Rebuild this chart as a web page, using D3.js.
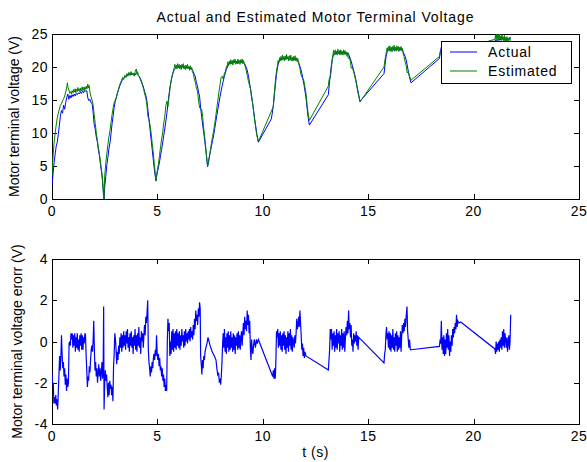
<!DOCTYPE html>
<html><head><meta charset="utf-8">
<script src="https://cdn.jsdelivr.net/npm/d3@7/dist/d3.min.js"></script>
<style>
body{margin:0;background:#fff;}
text{font-family:"Liberation Sans",Arial,Helvetica,sans-serif;}
</style></head>
<body><svg id="c" width="587" height="462"></svg>
<script>
const title = "Actual and Estimated Motor Terminal Voltage";
const xLabel = "t (s)";
const yLabelTop = "Motor terminal voltage (V)";
const yLabelBot = "Motor terminal voltage erorr (V)";
const legendLabels = ["Actual", "Estimated"];
const xTicks = [0,5,10,15,20,25];
const yTicksTop = [0,5,10,15,20,25];
const yTicksBot = [-4,-2,0,2,4];

// Actual terminal voltage [t (s), V]
const actual = [
[0.00,2.0],[0.05,3.8],[0.10,5.5],[0.15,6.8],[0.20,8.0],[0.25,8.6],[0.30,9.8],[0.35,11.2],[0.40,12.6],[0.45,13.4],[0.50,13.0],[0.55,14.2],[0.60,13.6],[0.65,14.6],[0.70,15.4],[0.75,15.9],[0.80,15.1],[0.85,15.7],[0.90,15.3],[0.95,15.8],[1.00,15.5],[1.05,15.9],[1.10,15.6],[1.15,16.0],[1.20,15.8],[1.25,16.1],[1.30,15.9],[1.35,16.2],[1.40,16.0],[1.45,16.4],[1.50,16.1],[1.55,16.5],[1.60,16.3],[1.65,16.4],[1.70,15.3],[1.75,14.9],[1.80,15.1],[1.85,14.6],[1.90,14.5],[1.95,13.2],[2.00,11.3],[2.05,10.6],[2.10,9.4],[2.15,8.7],[2.20,7.4],[2.25,6.6],[2.30,5.2],[2.35,4.1],[2.40,2.6],[2.44,1.0],[2.47,0.0],
[2.50,1.8],[2.55,3.4],[2.60,5.1],[2.65,6.3],[2.70,7.6],[2.75,8.5],[2.80,9.9],[2.85,11.4],[2.90,12.6],[2.95,13.9],[3.00,14.8],[3.05,15.3],[3.10,16.0],[3.15,16.5],[3.20,17.0],[3.25,17.4],[3.30,17.8],[3.35,18.1],[3.40,18.3],[3.45,18.5],[3.50,18.7],[3.55,18.6],[3.60,18.9],[3.65,18.8],[3.70,19.0],[3.75,18.8],[3.80,19.1],[3.85,18.9],[3.90,19.0],[3.95,18.8],[4.00,19.1],[4.05,18.9],[4.10,18.7],[4.15,18.5],[4.20,18.2],[4.25,17.8],[4.30,17.3],[4.35,16.8],[4.40,16.2],[4.45,15.7],[4.50,14.9],[4.55,13.5],[4.60,12.0],[4.65,10.6],[4.70,9.1],[4.75,7.6],[4.80,6.1],[4.85,4.6],[4.90,3.4],[4.93,2.8],
[4.97,3.6],[5.00,4.1],[5.05,4.8],[5.10,5.6],[5.15,6.6],[5.20,7.5],[5.25,8.5],[5.30,9.6],[5.35,10.6],[5.40,11.8],[5.45,13.0],[5.50,14.5],[5.55,15.8],[5.60,17.0],[5.65,17.9],[5.70,18.6],[5.75,19.2],[5.80,19.6],[5.85,19.8],[5.90,20.1],[5.95,19.9],[6.00,20.1],[6.05,19.8],[6.10,20.0],[6.15,19.9],[6.20,20.2],[6.25,19.9],[6.30,20.1],[6.35,19.8],[6.40,20.0],[6.45,19.8],[6.50,20.0],[6.55,19.7],[6.60,19.9],[6.65,19.6],[6.70,19.3],[6.75,18.9],[6.80,18.5],[6.85,17.6],[6.90,17.2],[6.95,16.2],[7.00,15.6],[7.05,13.8],[7.10,12.5],[7.15,11.2],[7.20,10.0],[7.25,8.7],[7.30,7.3],[7.34,6.1],[7.38,4.9],
[7.42,5.6],[7.47,6.5],[7.52,7.3],[7.57,8.1],[7.62,8.9],[7.67,9.7],[7.72,10.7],[7.77,11.7],[7.82,12.7],[7.87,13.6],[7.92,14.6],[7.97,15.5],[8.02,16.3],[8.07,17.1],[8.12,17.8],[8.17,18.5],[8.22,19.1],[8.27,19.6],[8.32,20.0],[8.37,20.4],[8.42,20.5],[8.47,20.7],[8.52,20.5],[8.57,20.8],[8.62,20.6],[8.67,20.9],[8.72,20.6],[8.77,20.8],[8.82,20.5],[8.87,20.9],[8.92,20.7],[8.97,20.9],[9.02,20.6],[9.07,20.8],[9.12,20.5],[9.17,20.3],[9.22,19.9],[9.27,19.4],[9.32,18.6],[9.37,17.6],[9.42,16.7],[9.47,15.6],[9.52,14.4],[9.57,13.2],[9.62,12.0],[9.67,10.9],[9.72,9.8],[9.79,8.6],
[10.40,12.1],[10.45,13.0],[10.50,14.2],[10.55,15.8],[10.60,17.4],[10.65,18.9],[10.70,20.0],[10.75,20.7],[10.80,21.0],[10.85,21.2],[10.90,21.4],[10.95,21.1],[11.00,21.4],[11.05,21.2],[11.10,21.5],[11.15,21.2],[11.20,21.4],[11.25,21.1],[11.30,21.3],[11.35,21.0],[11.40,21.3],[11.45,21.1],[11.50,21.3],[11.55,21.0],[11.60,21.2],[11.65,20.9],[11.70,20.7],[11.75,20.2],[11.80,19.7],[11.85,19.1],[11.90,18.2],[11.95,17.4],[12.00,16.4],[12.05,15.3],[12.10,13.8],[12.15,12.4],[12.21,11.2],
[13.11,15.8],[13.15,17.2],[13.20,18.8],[13.25,20.2],[13.30,21.2],[13.35,21.8],[13.40,22.1],[13.45,22.3],[13.50,22.0],[13.55,22.3],[13.60,22.1],[13.65,22.4],[13.70,22.0],[13.75,22.3],[13.80,22.1],[13.85,22.4],[13.90,22.0],[13.95,22.2],[14.00,21.9],[14.05,22.1],[14.10,21.7],[14.15,21.3],[14.20,20.8],[14.25,20.2],[14.30,19.6],[14.35,19.0],[14.40,18.3],[14.45,17.5],[14.50,16.6],[14.55,15.8],[14.61,14.8],
[15.75,19.0],[15.80,20.4],[15.85,21.6],[15.90,22.3],[15.95,22.5],[16.00,22.7],[16.05,22.4],[16.10,22.8],[16.15,22.5],[16.20,22.7],[16.25,22.4],[16.30,22.8],[16.35,22.5],[16.40,22.7],[16.45,22.4],[16.50,22.8],[16.55,22.5],[16.60,22.6],[16.65,22.3],[16.70,22.0],[16.75,21.6],[16.80,21.1],[16.85,20.3],[16.90,19.4],[16.95,18.6],[17.03,17.6],
[18.38,21.3],[18.42,22.2],[18.46,22.9],[18.50,23.2],[18.60,23.4],[18.70,23.2],[18.80,23.6],[18.90,23.3],[19.00,23.6],[19.10,23.4],[19.20,23.7],[19.30,23.4],[19.39,23.6],
[21.01,23.9],[21.05,24.1],[21.10,23.9],[21.15,24.2],[21.20,24.0],[21.25,24.3],[21.30,24.1],[21.35,24.4],[21.40,24.1],[21.45,24.3],[21.50,24.0],[21.55,24.3],[21.60,24.1],[21.65,24.4],[21.70,24.2],[21.76,24.5]
];

// Estimated terminal voltage [t (s), V]
const estimated = [
[0.00,3.5],[0.05,6.5],[0.10,8.5],[0.15,10.0],[0.20,11.2],[0.25,12.3],[0.30,13.0],[0.35,13.6],[0.40,14.2],[0.45,14.4],[0.50,14.9],[0.55,15.2],[0.60,15.6],[0.65,16.2],[0.70,17.0],[0.73,17.6],[0.76,16.9],[0.80,16.5],[0.85,16.0],[0.90,16.3],[0.93,15.9],[0.96,16.4],[1.00,16.1],[1.03,16.6],[1.06,16.2],[1.10,16.7],[1.13,16.1],[1.16,16.6],[1.20,16.3],[1.23,16.9],[1.26,16.4],[1.30,16.7],[1.33,16.2],[1.36,16.8],[1.40,16.4],[1.43,17.0],[1.46,16.5],[1.50,16.9],[1.53,16.4],[1.56,17.0],[1.60,16.6],[1.63,17.1],[1.66,16.7],[1.70,17.4],[1.73,16.8],[1.76,17.2],[1.80,16.2],[1.85,15.5],[1.90,15.0],[1.95,14.3],[2.00,12.8],[2.05,11.5],[2.10,10.1],[2.15,8.9],[2.20,7.8],[2.25,6.8],[2.30,5.6],[2.35,4.3],[2.40,3.0],[2.44,0.6],[2.47,0.0],
[2.50,3.5],[2.55,5.4],[2.60,6.8],[2.65,8.2],[2.70,9.4],[2.75,10.4],[2.80,11.6],[2.85,12.8],[2.90,13.8],[2.95,14.6],[3.00,15.0],[3.05,15.4],[3.10,16.0],[3.15,16.5],[3.20,17.2],[3.25,17.6],[3.30,18.0],[3.35,18.4],[3.40,18.1],[3.45,18.7],[3.50,18.4],[3.55,19.0],[3.60,18.6],[3.65,19.2],[3.70,18.7],[3.75,19.3],[3.80,18.8],[3.85,19.1],[3.90,18.6],[3.95,19.4],[4.00,19.7],[4.03,18.9],[4.06,19.3],[4.10,18.7],[4.15,18.5],[4.20,18.0],[4.25,17.6],[4.30,17.2],[4.35,16.6],[4.40,15.9],[4.45,15.3],[4.50,14.3],[4.55,12.5],[4.60,12.1],[4.65,11.2],[4.70,10.1],[4.75,8.5],[4.80,7.2],[4.85,5.4],[4.90,3.8],[4.93,2.7],
[4.97,3.6],[5.00,4.5],[5.05,5.3],[5.10,6.6],[5.15,7.9],[5.20,9.1],[5.25,10.0],[5.30,11.5],[5.35,12.5],[5.40,14.1],[5.45,14.8],[5.50,14.0],[5.55,15.5],[5.60,16.8],[5.65,17.9],[5.70,18.7],[5.75,19.3],[5.80,19.9],[5.83,20.4],[5.86,19.8],[5.90,20.3],[5.93,19.7],[5.96,20.5],[6.00,19.9],[6.03,20.4],[6.06,19.8],[6.10,20.3],[6.13,19.6],[6.16,20.4],[6.20,19.9],[6.23,20.5],[6.26,19.7],[6.30,20.2],[6.33,19.6],[6.36,20.3],[6.40,19.8],[6.43,20.4],[6.46,19.7],[6.50,20.1],[6.53,19.5],[6.56,20.2],[6.60,19.6],[6.63,19.9],[6.66,19.3],[6.70,19.0],[6.75,18.2],[6.80,17.7],[6.85,16.8],[6.90,16.4],[6.95,15.0],[7.00,13.8],[7.05,13.7],[7.10,13.6],[7.15,12.4],[7.20,10.6],[7.25,9.2],[7.30,7.6],[7.34,6.3],[7.38,5.0],
[7.42,5.4],[7.47,6.5],[7.52,7.5],[7.57,8.6],[7.62,9.5],[7.67,10.4],[7.72,11.4],[7.77,12.6],[7.82,13.8],[7.87,15.0],[7.92,16.2],[7.97,17.3],[8.02,18.4],[8.07,18.6],[8.12,18.2],[8.17,18.9],[8.22,19.3],[8.27,20.0],[8.32,20.3],[8.35,20.8],[8.38,20.2],[8.42,20.9],[8.45,20.4],[8.48,21.1],[8.52,20.5],[8.55,21.0],[8.58,20.3],[8.62,21.1],[8.65,20.6],[8.68,21.2],[8.72,20.4],[8.75,20.9],[8.78,20.5],[8.82,21.2],[8.85,20.6],[8.88,21.0],[8.92,20.4],[8.95,21.1],[8.98,20.7],[9.02,21.2],[9.05,20.5],[9.08,21.0],[9.12,20.6],[9.17,20.0],[9.22,19.4],[9.27,18.6],[9.32,17.8],[9.37,17.2],[9.42,16.6],[9.47,15.3],[9.52,14.5],[9.57,13.1],[9.62,11.8],[9.67,10.6],[9.72,9.6],[9.79,8.7],
[10.50,14.0],[10.55,16.2],[10.60,18.0],[10.65,19.4],[10.70,20.3],[10.73,21.0],[10.76,20.6],[10.80,21.4],[10.83,20.9],[10.86,21.6],[10.90,21.0],[10.93,21.8],[10.96,21.2],[11.00,21.6],[11.03,20.9],[11.06,21.7],[11.10,21.1],[11.13,21.9],[11.16,21.2],[11.20,21.6],[11.23,20.9],[11.26,21.7],[11.30,21.2],[11.33,21.8],[11.36,21.0],[11.40,21.5],[11.43,20.9],[11.46,21.6],[11.50,21.0],[11.53,21.7],[11.56,21.1],[11.60,21.4],[11.63,20.8],[11.66,21.3],[11.70,20.5],[11.75,20.0],[11.80,19.0],[11.85,18.5],[11.90,18.3],[11.95,17.9],[12.00,16.9],[12.05,16.0],[12.10,14.3],[12.15,13.0],[12.21,11.9],
[13.11,17.1],[13.15,18.2],[13.20,18.3],[13.25,19.6],[13.30,21.4],[13.33,21.9],[13.36,22.5],[13.40,21.8],[13.43,22.6],[13.46,21.9],[13.50,22.4],[13.53,21.8],[13.56,22.7],[13.60,22.0],[13.63,22.5],[13.66,21.8],[13.70,22.6],[13.73,21.9],[13.76,22.4],[13.80,21.8],[13.83,22.6],[13.86,21.9],[13.90,22.5],[13.93,21.9],[13.96,22.3],[14.00,21.6],[14.03,22.2],[14.06,21.3],[14.10,21.5],[14.15,20.9],[14.20,19.8],[14.25,20.0],[14.30,19.3],[14.35,18.8],[14.40,18.0],[14.45,17.3],[14.50,16.3],[14.55,15.6],[14.61,14.7],
[15.75,20.0],[15.80,21.2],[15.84,21.9],[15.87,22.4],[15.90,22.9],[15.93,22.4],[15.96,23.1],[16.00,22.5],[16.03,23.2],[16.06,22.4],[16.10,23.0],[16.13,22.3],[16.16,23.1],[16.20,22.6],[16.23,23.3],[16.26,22.5],[16.30,23.0],[16.33,22.4],[16.36,23.2],[16.40,22.6],[16.43,23.1],[16.46,22.4],[16.50,23.0],[16.53,22.6],[16.56,23.1],[16.60,22.5],[16.63,22.8],[16.66,22.0],[16.70,21.6],[16.75,20.8],[16.80,20.2],[16.85,19.1],[16.90,19.3],[16.95,18.7],[17.03,18.0],
[18.38,21.6],[18.42,22.4],[18.46,22.2],[18.50,23.5],[18.55,23.1],[18.60,23.7],[18.65,23.2],[18.70,23.9],[18.75,23.3],[18.80,23.8],[18.85,23.2],[18.90,23.7],[18.95,23.1],[19.00,23.6],[19.05,23.0],[19.10,23.4],[19.15,22.8],[19.20,23.0],[19.25,22.6],[19.30,22.7],[19.39,22.7],
[21.01,24.2],[21.04,24.8],[21.07,24.0],[21.10,25.3],[21.13,24.3],[21.16,24.9],[21.19,24.1],[21.22,25.1],[21.25,24.2],[21.28,24.7],[21.31,24.0],[21.34,24.9],[21.37,24.2],[21.40,24.6],[21.43,23.9],[21.46,24.8],[21.49,24.0],[21.52,24.5],[21.55,23.8],[21.58,24.6],[21.61,24.0],[21.64,24.4],[21.67,23.8],[21.70,24.5],[21.76,24.0]
];

// Voltage error [t (s), V]
const voltError = [
[0.00,-1.5],[0.03,-2.1],[0.06,-2.0],[0.09,-3.0],[0.12,-2.7],[0.15,-3.0],[0.18,-2.6],[0.21,-3.1],[0.24,-2.8],[0.27,-3.3],[0.30,-2.4],[0.33,-1.6],[0.36,-0.7],[0.39,-1.4],[0.42,-0.8],[0.45,0.3],[0.48,-0.6],[0.51,-1.3],[0.54,-1.0],[0.57,-1.7],[0.60,-1.3],[0.63,-2.1],[0.66,-1.6],[0.69,-2.4],[0.72,-1.8],[0.75,-2.2],[0.78,-2.0],[0.81,-0.1],[0.84,0.0],[0.87,-0.2],[0.90,0.4],[0.93,0.1],[0.96,0.4],[0.99,-0.3],[1.02,0.3],[1.05,-0.2],[1.08,0.4],[1.11,-0.5],[1.14,0.2],[1.17,-0.3],[1.20,0.4],[1.23,-0.4],[1.26,0.1],[1.29,-0.5],[1.32,0.3],[1.35,-0.2],[1.38,0.4],[1.41,-0.4],[1.44,0.3],[1.47,-0.4],[1.50,0.2],[1.53,-0.1],[1.56,0.4],[1.59,0.3],[1.62,-0.7],[1.65,-1.4],[1.68,-2.2],[1.71,-1.7],[1.74,-1.9],[1.77,-1.2],[1.80,-1.5],[1.83,-0.9],[1.86,-0.4],[1.89,-0.2],[1.92,-0.5],[1.95,0.0],[1.98,1.0],[2.01,-0.4],[2.04,-1.4],[2.07,-1.0],[2.10,-1.7],[2.13,-1.3],[2.16,-2.0],[2.19,-1.5],[2.22,-1.1],[2.25,-1.7],[2.28,-1.3],[2.31,-1.9],[2.34,-1.5],[2.37,-1.0],[2.40,-1.8],[2.43,-1.1],[2.45,1.7],[2.47,-3.3],
[2.50,-2.0],[2.53,-1.4],[2.56,-1.9],[2.59,-1.6],[2.62,-2.2],[2.65,-2.7],[2.68,-2.0],[2.71,-2.6],[2.74,-1.9],[2.77,-2.3],[2.80,-2.1],[2.83,-2.6],[2.86,-2.2],[2.89,-2.9],[2.92,-1.2],[2.95,-0.6],[2.98,0.4],[3.01,0.1],[3.04,-0.4],[3.07,-1.1],[3.10,-0.5],[3.13,-0.9],[3.16,-0.2],[3.19,-0.6],[3.22,0.2],[3.25,-0.3],[3.28,0.4],[3.31,-0.5],[3.34,0.3],[3.37,-0.3],[3.40,0.5],[3.43,-0.2],[3.46,0.3],[3.49,-0.4],[3.52,0.5],[3.55,-0.1],[3.58,0.6],[3.61,-0.3],[3.64,0.2],[3.67,-0.5],[3.70,0.4],[3.73,-0.2],[3.76,0.5],[3.79,-0.3],[3.82,0.2],[3.85,-0.6],[3.88,0.3],[3.91,-0.2],[3.94,0.6],[3.97,-0.4],[4.00,0.3],[4.03,-0.5],[4.06,0.4],[4.09,-0.2],[4.12,0.7],[4.15,-0.3],[4.18,0.2],[4.21,-0.6],[4.24,0.5],[4.27,0.0],[4.30,0.4],[4.33,-0.3],[4.36,0.3],[4.39,0.8],[4.42,0.3],[4.45,1.2],[4.48,0.9],[4.51,1.4],[4.54,2.0],[4.57,-0.4],[4.60,-1.0],[4.63,-1.3],[4.66,-1.7],[4.69,-1.2],[4.72,-1.5],[4.75,-1.0],[4.78,-1.3],[4.81,-0.8],[4.84,-0.6],[4.87,-0.9],[4.90,-0.4],[4.93,-0.7],[4.96,0.3],[4.99,-0.6],
[5.02,-0.9],[5.05,-0.6],[5.08,-1.2],[5.11,-0.8],[5.14,-1.4],[5.17,-1.2],[5.20,-1.7],[5.23,-1.3],[5.26,-1.9],[5.29,-1.6],[5.32,-2.2],[5.35,-1.8],[5.38,-2.4],[5.41,-2.1],[5.44,-2.4],[5.47,0.0],[5.50,1.1],[5.53,0.5],[5.56,0.9],[5.59,-0.7],[5.62,0.0],[5.65,-0.6],[5.68,0.5],[5.71,-0.4],[5.74,0.6],[5.77,-0.5],[5.80,0.4],[5.83,-0.3],[5.86,0.5],[5.89,-0.4],[5.92,0.6],[5.95,-0.2],[5.98,0.4],[6.01,-0.3],[6.04,0.5],[6.07,-0.4],[6.10,0.3],[6.13,-0.2],[6.16,0.6],[6.19,0.0],[6.22,0.3],[6.25,-0.3],[6.28,0.5],[6.31,-0.2],[6.34,0.6],[6.37,0.0],[6.40,0.4],[6.43,-0.1],[6.46,0.5],[6.49,0.1],[6.52,0.6],[6.55,0.0],[6.58,0.7],[6.61,0.2],[6.64,0.5],[6.67,0.1],[6.70,0.8],[6.73,0.3],[6.76,1.1],[6.79,0.6],[6.82,1.5],[6.85,1.0],[6.88,1.3],[6.91,0.8],[6.94,1.6],[6.97,1.2],[7.00,1.9],[7.03,1.6],[7.05,-0.7],[7.08,-1.1],[7.11,-1.6],[7.14,-0.9],[7.17,-1.3],[7.20,-0.7],[7.23,-0.9],[7.26,-0.5],[7.30,-0.3],[7.35,-0.1],[7.40,0.2],
[7.50,-0.2],[7.60,-0.5],[7.70,-0.7],[7.78,-0.9],[7.82,-1.3],[7.86,-1.6],[7.90,-1.5],[7.94,-2.0],[7.97,-1.8],[8.00,-2.1],[8.03,-1.7],[8.06,-1.1],[8.09,-0.2],[8.12,0.4],[8.15,-0.3],[8.18,0.6],[8.21,-0.5],[8.24,0.2],[8.27,-0.6],[8.30,0.4],[8.33,-0.3],[8.36,0.5],[8.39,-0.5],[8.42,0.3],[8.45,-0.4],[8.48,0.5],[8.51,-0.3],[8.54,0.2],[8.57,-0.5],[8.60,0.4],[8.63,-0.4],[8.66,0.3],[8.69,-0.6],[8.72,0.2],[8.75,-0.2],[8.78,0.4],[8.81,-0.4],[8.84,0.5],[8.87,-0.3],[8.90,0.3],[8.93,-0.4],[8.96,0.2],[8.99,0.5],[9.02,-0.2],[9.05,0.4],[9.08,0.9],[9.11,0.3],[9.14,1.2],[9.17,0.6],[9.20,1.0],[9.23,0.5],[9.26,1.5],[9.29,0.8],[9.32,1.3],[9.35,0.4],[9.38,1.0],[9.41,-0.3],[9.44,-0.9],[9.47,0.1],[9.50,-0.4],[9.53,-0.6],[9.56,-0.2],[9.60,0.1],[9.65,-0.3],[9.70,0.1],[9.74,-0.1],[9.79,0.1],
[10.47,-1.7],[10.50,-1.4],[10.53,-1.8],[10.56,-1.3],[10.59,-1.8],[10.62,-1.0],[10.65,0.5],[10.68,0.2],[10.71,0.6],[10.74,-0.3],[10.77,0.4],[10.80,-0.2],[10.83,0.5],[10.86,-0.4],[10.89,0.3],[10.92,-0.5],[10.95,0.4],[10.98,-0.2],[11.01,0.5],[11.04,-0.4],[11.07,0.3],[11.10,-0.6],[11.13,0.2],[11.16,-0.3],[11.19,0.5],[11.22,-0.5],[11.25,0.4],[11.28,-0.2],[11.31,0.6],[11.34,-0.4],[11.37,0.3],[11.40,-0.5],[11.43,0.2],[11.46,0.0],[11.49,-0.3],[11.52,0.3],[11.55,-0.1],[11.58,0.4],[11.61,1.1],[11.64,0.6],[11.67,0.8],[11.70,1.2],[11.73,0.7],[11.76,1.5],[11.79,0.9],[11.82,0.3],[11.85,-0.4],[11.88,-0.1],[11.91,-0.7],[11.94,-0.3],[11.97,-0.8],[12.00,-0.5],[12.05,-0.7],
[13.11,-1.38],[13.14,-0.9],[13.17,-0.4],[13.20,0.6],[13.23,0.1],[13.26,0.6],[13.29,-0.4],[13.32,0.4],[13.35,-0.2],[13.38,0.5],[13.41,-0.5],[13.44,0.3],[13.47,-0.3],[13.50,0.6],[13.53,-0.4],[13.56,0.4],[13.59,-0.1],[13.62,0.5],[13.65,-0.5],[13.68,0.3],[13.71,-0.2],[13.74,0.6],[13.77,-0.4],[13.80,0.4],[13.83,-0.3],[13.86,0.5],[13.89,-0.5],[13.92,0.2],[13.95,0.7],[13.98,0.3],[14.01,1.0],[14.04,0.4],[14.07,1.5],[14.10,0.6],[14.13,0.9],[14.16,0.2],[14.19,0.8],[14.22,-0.2],[14.25,0.1],[14.28,-0.5],[14.31,0.4],[14.34,-0.1],[14.37,0.3],[14.40,0.0],[14.43,0.5],[14.46,-0.2],[14.49,0.3],[14.52,-0.4],[14.55,0.2],[14.61,0.14],
[15.75,-1.04],[15.78,-0.6],[15.81,-0.4],[15.84,0.3],[15.87,0.7],[15.90,0.1],[15.93,0.4],[15.96,-0.3],[15.99,0.5],[16.02,-0.4],[16.05,0.4],[16.08,-0.5],[16.11,0.3],[16.14,-0.3],[16.17,0.6],[16.20,-0.4],[16.23,0.2],[16.26,-0.5],[16.29,0.4],[16.32,-0.2],[16.35,0.5],[16.38,-0.5],[16.41,0.3],[16.44,-0.4],[16.47,0.2],[16.50,-0.3],[16.53,0.5],[16.56,-0.5],[16.59,0.3],[16.62,0.8],[16.65,0.4],[16.68,0.9],[16.71,0.5],[16.74,1.1],[16.77,0.7],[16.80,1.2],[16.84,1.7],[16.87,0.5],[16.90,0.1],[16.93,-0.3],[16.96,0.1],[17.00,-0.4],[17.03,-0.4],
[18.38,-0.24],[18.41,0.1],[18.44,-0.1],[18.47,1.0],[18.50,-0.4],[18.53,0.2],[18.56,-0.6],[18.59,0.3],[18.62,-0.7],[18.65,0.1],[18.68,-0.6],[18.71,0.4],[18.74,-0.3],[18.77,0.6],[18.80,-0.4],[18.83,0.3],[18.86,-0.7],[18.89,0.0],[18.92,-0.5],[18.95,0.3],[18.98,-0.2],[19.01,0.6],[19.04,0.2],[19.07,0.7],[19.10,0.4],[19.13,0.9],[19.16,0.6],[19.19,1.3],[19.22,0.7],[19.25,1.0],[19.30,0.9],[19.39,0.95],
[21.01,-0.36],[21.04,-0.6],[21.07,0.0],[21.10,-0.5],[21.13,-0.1],[21.16,-0.4],[21.19,0.0],[21.22,-0.5],[21.25,0.1],[21.28,-0.3],[21.31,0.2],[21.34,-0.4],[21.37,0.5],[21.40,-0.2],[21.43,0.6],[21.46,-0.3],[21.49,0.4],[21.52,0.1],[21.55,-0.3],[21.58,0.2],[21.61,-0.5],[21.64,0.0],[21.67,0.3],[21.70,-0.4],[21.73,0.0],[21.76,1.3]
];

const svg = d3.select("#c");
svg.append("rect").attr("width",587).attr("height",462).attr("fill","#fff");

const L = 52, R = 579;
const top1 = 34, bot1 = 199, top2 = 259, bot2 = 424;
const x = d3.scaleLinear().domain([0,25]).range([L,R]);
const y1 = d3.scaleLinear().domain([0,25]).range([bot1,top1]);
const y2 = d3.scaleLinear().domain([-4,4]).range([bot2,top2]);

const fs = "14px";
const defs = svg.append("defs");

function panel(id, y, yTicks, ty, by){
  defs.append("clipPath").attr("id",id).append("rect")
    .attr("x",L).attr("y",ty).attr("width",R-L).attr("height",by-ty);
  const g = svg.append("g");
  const tk = 5;
  const ticksG = g.append("g").attr("stroke","#000").attr("stroke-width",1);
  xTicks.forEach(v=>{
    const px = Math.round(x(v))+0.5;
    ticksG.append("line").attr("x1",px).attr("x2",px).attr("y1",by).attr("y2",by-tk);
    ticksG.append("line").attr("x1",px).attr("x2",px).attr("y1",ty).attr("y2",ty+tk);
  });
  yTicks.forEach(v=>{
    const py = Math.round(y(v))+0.5;
    ticksG.append("line").attr("x1",L).attr("x2",L+tk).attr("y1",py).attr("y2",py);
    ticksG.append("line").attr("x1",R).attr("x2",R-tk).attr("y1",py).attr("y2",py);
  });
  g.append("rect").attr("x",L+0.5).attr("y",ty+0.5).attr("width",R-L).attr("height",by-ty)
    .attr("fill","none").attr("stroke","#000").attr("stroke-width",1);
  g.selectAll(".xl").data(xTicks).join("text")
    .attr("x",d=>x(d)).attr("y",by+17).attr("text-anchor","middle")
    .attr("font-size",fs).attr("fill","#000").attr("letter-spacing","0.5px").text(d=>d);
  g.selectAll(".yl").data(yTicks).join("text")
    .attr("x",L-4).attr("y",d=>y(d)+5).attr("text-anchor","end")
    .attr("font-size",fs).attr("fill","#000").attr("letter-spacing","0.5px").text(d=>d);
  return g;
}

panel("clip1", y1, yTicksTop, top1, bot1);
panel("clip2", y2, yTicksBot, top2, bot2);

const line1 = d3.line().x(d=>x(d[0])).y(d=>y1(d[1]));
const line2 = d3.line().x(d=>x(d[0])).y(d=>y2(d[1]));

const p1 = svg.append("g").attr("clip-path","url(#clip1)");
p1.append("path").datum(actual).attr("d",line1).attr("fill","none").attr("stroke","#0000ff").attr("stroke-width",1);
p1.append("path").datum(estimated).attr("d",line1).attr("fill","none").attr("stroke","#008000").attr("stroke-width",1);

const p2 = svg.append("g").attr("clip-path","url(#clip2)");
p2.append("path").datum(voltError).attr("d",line2).attr("fill","none").attr("stroke","#0000ff").attr("stroke-width",1.2);

// legend
const lg = svg.append("g");
lg.append("rect").attr("x",441.5).attr("y",41.5).attr("width",130).attr("height",42)
  .attr("fill","#fff").attr("stroke","#000").attr("stroke-width",1);
const colors = ["#0000ff","#008000"];
legendLabels.forEach((t,i)=>{
  const yy = 52 + i*19;
  lg.append("line").attr("x1",450).attr("x2",477).attr("y1",yy).attr("y2",yy)
    .attr("stroke",colors[i]).attr("stroke-width",1);
  lg.append("text").attr("x",488).attr("y",yy+5).attr("font-size",fs).attr("fill","#000")
    .attr("letter-spacing","0.8px").text(t);
});

// titles & labels
svg.append("text").attr("x",(L+R)/2).attr("y",22).attr("text-anchor","middle")
  .attr("font-size","14px").attr("letter-spacing","0.9px").attr("fill","#000").text(title);
svg.append("text").attr("x",(L+R)/2).attr("y",457).attr("text-anchor","middle")
  .attr("font-size",fs).attr("letter-spacing","0.5px").attr("fill","#000").text(xLabel);
svg.append("text").attr("transform",`translate(19,${(top1+bot1)/2}) rotate(-90)`)
  .attr("text-anchor","middle").attr("font-size",fs).attr("fill","#000").text(yLabelTop);
svg.append("text").attr("transform",`translate(22,${(top2+bot2)/2}) rotate(-90)`)
  .attr("text-anchor","middle").attr("font-size",fs).attr("fill","#000").text(yLabelBot);
</script></body></html>
